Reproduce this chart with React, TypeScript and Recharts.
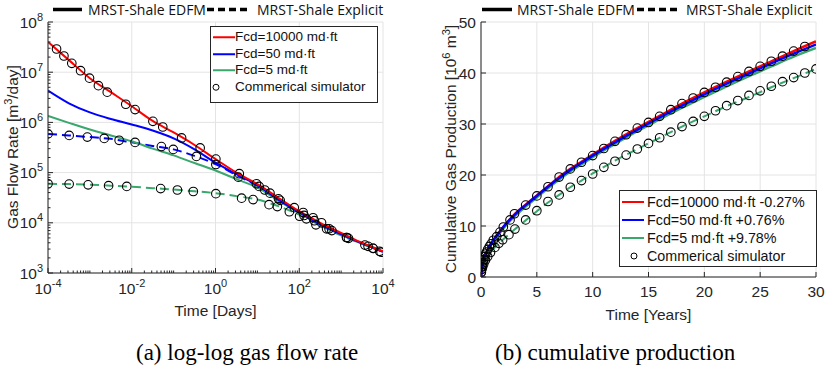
import React from 'react';
import { ComposedChart, Line, Scatter, XAxis, YAxis, CartesianGrid, Legend } from 'recharts';

const FONT = '"Liberation Sans", Arial, sans-serif';
const AX = '#262626';
const GRID = '#e4e4e4';
const RED = '#ff0000';
const BLUE = '#0000ff';
const GREEN = '#3aa76d';

// (a) gas flow rate [m3/day] vs time [days]
const rateDays = [1e-4, 3.16e-4, 1e-3, 3.16e-3, 1e-2, 3.16e-2, 0.1, 0.316, 1, 3.16, 10, 31.6, 100, 316, 1000, 3160, 1e4];
const rateEdfm10000 = [4.0e7, 1.74e7, 7.6e6, 4.0e6, 2.1e6, 1.07e6, 6.3e5, 3.55e5, 1.86e5, 1.0e5, 5.9e4, 3.16e4, 1.7e4, 1.0e4, 6.3e3, 4.0e3, 2.7e3];
const rateEdfm50 = [4.3e6, 2.4e6, 1.58e6, 1.17e6, 9.1e5, 6.9e5, 4.8e5, 2.9e5, 1.58e5, 9.3e4, 5.6e4, 2.9e4, 1.62e4, 9.3e3, 5.9e3, 3.9e3, 2.65e3];
const rateEdfm5 = [1.35e6, 9.8e5, 7.2e5, 5.5e5, 4.2e5, 3.0e5, 2.2e5, 1.55e5, 1.1e5, 7.4e4, 5.0e4, 2.75e4, 1.55e4, 9.1e3, 5.75e3, 3.8e3, 2.65e3];
const rateExpl50 = [5.9e5, 5.5e5, 5.1e5, 4.7e5, 4.0e5, 3.4e5, 2.9e5, 2.15e5, 1.48e5, 8.9e4, 5.4e4, 2.9e4, 1.62e4, 9.3e3, 5.9e3, 3.9e3, 2.65e3];
const rateExpl5 = [6.0e4, 5.9e4, 5.75e4, 5.5e4, 5.25e4, 4.9e4, 4.6e4, 4.25e4, 3.9e4, 3.4e4, 2.9e4, 2.15e4, 1.45e4, 8.9e3, 5.6e3, 3.8e3, 2.65e3];

// commercial simulator points (a)
const simDays10000 = [1.6e-4, 2.4e-4, 3.7e-4, 6e-4, 9.8e-4, 1.6e-3, 2.6e-3, 7.2e-3, 1.2e-2, 3.2e-2, 5.5e-2, 0.155, 0.43, 1.02, 3.7, 9.5, 15, 32, 76, 124, 214, 340, 515, 1350, 3700, 5800, 8300];
const simRate10000 = [2.9e7, 2.1e7, 1.5e7, 1.07e7, 7.6e6, 5.4e6, 4.0e6, 2.3e6, 1.8e6, 1.05e6, 8.1e5, 4.9e5, 3.1e5, 1.86e5, 9.5e4, 6.0e4, 4.5e4, 3.0e4, 2.0e4, 1.6e4, 1.26e4, 1.0e4, 7.6e3, 5.1e3, 3.6e3, 3.1e3, 2.7e3];
const simDays50 = [1e-4, 3.2e-4, 8.7e-4, 2.2e-3, 5e-3, 1.2e-2, 5.1e-2, 9.8e-2, 0.35, 1.02, 3.5, 11, 20, 35, 130, 230, 600, 1500, 4400, 9000];
const simRate50 = [5.9e5, 5.5e5, 5.1e5, 4.8e5, 4.4e5, 4.0e5, 3.3e5, 2.9e5, 2.1e5, 1.45e5, 8.1e4, 5.3e4, 3.9e4, 2.8e4, 1.4e4, 1.1e4, 7.0e3, 4.9e3, 3.4e3, 2.6e3];
const simDays5 = [1e-4, 3.2e-4, 9.1e-4, 2.8e-3, 7.6e-3, 4.9e-2, 0.123, 0.295, 1.02, 4.2, 7.9, 19, 30, 58, 102, 148, 250, 450, 1350, 5800];
const simRate5 = [6.0e4, 5.9e4, 5.7e4, 5.5e4, 5.3e4, 4.8e4, 4.5e4, 4.2e4, 3.8e4, 3.1e4, 2.9e4, 2.3e4, 2.1e4, 1.66e4, 1.35e4, 1.2e4, 9.1e3, 7.6e3, 5.1e3, 3.1e3];

const dayTicks = [1e-4, 1e-2, 1, 1e2, 1e4];
const dayTickExp = ['-4', '-2', '0', '2', '4'];
const rateTicks = [1e3, 1e4, 1e5, 1e6, 1e7, 1e8];
const rateTickExp = ['3', '4', '5', '6', '7', '8'];

// (b) cumulative gas production [10^6 m3] vs time [years]
const cumYears = [0, 0.1, 0.25, 0.5, 1, 1.5, 2, 3, 4, 5, 6, 7, 8, 9, 10, 12, 14, 16, 18, 20, 22, 24, 26, 28, 30];
const cumEdfm10000 = [0, 2.2, 3.45, 4.9, 6.9, 8.4, 9.8, 12.3, 14.2, 16.0, 17.8, 19.6, 21.2, 22.6, 24.0, 26.7, 29.2, 31.6, 34.0, 36.2, 38.3, 40.3, 42.3, 44.3, 46.2];
const cumEdfm50 = [0, 2.2, 3.45, 4.9, 6.9, 8.4, 9.8, 12.2, 14.1, 15.9, 17.7, 19.4, 21.0, 22.4, 23.8, 26.4, 28.9, 31.3, 33.6, 35.8, 37.9, 39.9, 41.9, 43.8, 45.6];
const cumEdfm5 = [0, 2.0, 3.2, 4.6, 6.6, 8.1, 9.5, 11.9, 13.8, 15.6, 17.4, 19.1, 20.7, 22.1, 23.5, 26.1, 28.6, 30.9, 33.2, 35.3, 37.4, 39.4, 41.3, 43.2, 44.9];
const cumExpl5 = [0, 1.65, 2.6, 3.7, 5.2, 6.4, 7.4, 9.3, 11.1, 12.9, 14.6, 16.1, 17.6, 18.9, 20.3, 22.8, 25.1, 27.3, 29.5, 31.5, 33.5, 35.3, 37.2, 39.0, 40.8];

const simYearsHigh = [0.02, 0.05, 0.08, 0.12, 0.17, 0.25, 0.33, 0.42, 0.5, 0.6, 0.75, 0.9, 1.1, 1.4, 1.7, 2, 2.6, 3, 4, 5, 6, 7, 8, 9, 10, 11, 12, 13, 14, 15, 16, 17, 18, 19, 20, 21, 22, 23, 24, 25, 26, 27, 28, 29];
const simCumHigh = [1.0, 1.5, 2.0, 2.4, 2.8, 3.4, 4.0, 4.5, 4.9, 5.4, 6.0, 6.5, 7.2, 7.9, 8.8, 9.8, 11.2, 12.4, 14.1, 15.9, 17.7, 19.6, 21.2, 22.5, 23.8, 25.2, 26.6, 27.9, 29.2, 30.3, 31.5, 32.8, 34.0, 35.1, 36.2, 37.2, 38.2, 39.3, 40.3, 41.3, 42.3, 43.3, 44.3, 45.2];
const simYears5 = [0.03, 0.08, 0.15, 0.25, 0.4, 0.6, 0.85, 1.25, 1.6, 1.94, 2.5, 3.04, 4, 5, 6, 7, 8, 9, 10, 11, 12, 13, 14, 15, 16, 17, 18, 19, 20, 21, 22, 23, 24, 25, 26, 27, 28, 29, 30];
const simCum5 = [0.9, 1.5, 2.0, 2.6, 3.3, 4.0, 4.8, 5.8, 6.6, 7.3, 8.3, 9.4, 11.2, 13.0, 14.8, 16.1, 17.6, 18.9, 20.2, 21.5, 22.7, 23.9, 25.1, 26.2, 27.3, 28.4, 29.5, 30.5, 31.5, 32.6, 33.6, 34.6, 35.6, 36.5, 37.4, 38.3, 39.1, 40.0, 40.8];

const yearTicks = [0, 5, 10, 15, 20, 25, 30];
const cumTicks = [0, 10, 20, 30, 40, 50];

const pts = (t: number[], q: number[]) => t.map((v, i) => ({ t: v, q: q[i] }));

// all 1..9 x 10^e positions for MATLAB-like minor ticks
const logTickSet = (lo: number, hi: number) => {
  const out: number[] = [];
  for (let e = lo; e < hi; e++) for (let m = 1; m < 10; m++) out.push(m * Math.pow(10, e));
  out.push(Math.pow(10, hi));
  return out;
};
const dayAllTicks = logTickSet(-4, 4);
const rateAllTicks = logTickSet(3, 8);

function AxisTick(props: any) {
  const { x, y, payload, side, majors, labels, log } = props;
  const v = payload.value;
  const i = majors.findIndex((m: number) => (log ? Math.abs(Math.log10(v / m)) < 1e-6 : Math.abs(v - m) < 1e-9));
  const len = i >= 0 ? 5 : 2.5;
  let line;
  if (side === 'bottom') line = <line x1={x} x2={x} y1={y} y2={y - len} stroke={AX} />;
  else if (side === 'top') line = <line x1={x} x2={x} y1={y} y2={y + len} stroke={AX} />;
  else if (side === 'left') line = <line x1={x} x2={x + len} y1={y} y2={y} stroke={AX} />;
  else line = <line x1={x} x2={x - len} y1={y} y2={y} stroke={AX} />;
  let label = null;
  if (i >= 0 && (side === 'bottom' || side === 'left')) {
    const lx = side === 'bottom' ? x : x - 5;
    const ly = side === 'bottom' ? y + (log ? 21 : 20) : y + 5.5;
    label = (
      <text x={lx} y={ly} textAnchor={side === 'bottom' ? 'middle' : 'end'} fill={AX} fontSize={15.5} fontFamily={FONT}>
        {log ? '10' : labels[i]}
        {log ? <tspan dy={-7} fontSize={11}>{labels[i]}</tspan> : null}
      </text>
    );
  }
  return <g>{line}{label}</g>;
}

const ring = (p: any) => <circle cx={p.cx} cy={p.cy} r={4.3} fill="none" stroke="#000" strokeWidth={1.1} />;

function BoxLegend({ rows, fontSize, rowH, lineX, textX, ringX, padTop }: any) {
  return (
    <div style={{ border: `1px solid ${AX}`, background: '#fff', fontFamily: FONT, fontSize, color: '#111', paddingTop: padTop, boxSizing: 'border-box', height: '100%' }}>
      {rows.map((r: any) => (
        <div key={r.label} style={{ position: 'relative', height: rowH, lineHeight: `${rowH}px`, whiteSpace: 'nowrap' }}>
          <svg width={textX} height={rowH} style={{ position: 'absolute', left: 0, top: 0 }}>
            {r.color ? (
              <line x1={lineX[0]} x2={lineX[1]} y1={rowH / 2} y2={rowH / 2} stroke={r.color} strokeWidth={2} />
            ) : (
              <circle cx={ringX} cy={rowH / 2} r={3} fill="none" stroke="#000" strokeWidth={1} />
            )}
          </svg>
          <span style={{ position: 'absolute', left: textX }}>{r.label}</span>
        </div>
      ))}
    </div>
  );
}

function RateChart() {
  const ids = { xAxisId: 'b', yAxisId: 'l' };
  return (
    <div style={{ position: 'absolute', left: 0, top: 0 }}>
      <ComposedChart width={400} height={300} margin={{ top: 22, right: 17, bottom: 0, left: 0 }}>
        <CartesianGrid {...ids} stroke={GRID} verticalValues={dayTicks} horizontalValues={rateTicks} />
        <XAxis xAxisId="b" dataKey="t" type="number" scale="log" domain={[1e-4, 1e4]} allowDataOverflow ticks={dayAllTicks} interval={0} height={27} tickSize={0} tickMargin={0} tickLine={false} axisLine={{ stroke: AX }}
          tick={(p: any) => <AxisTick {...p} side="bottom" log majors={dayTicks} labels={dayTickExp} />} />
        <XAxis xAxisId="t" orientation="top" type="number" scale="log" domain={[1e-4, 1e4]} allowDataOverflow ticks={dayAllTicks} interval={0} height={0} tickSize={0} tickMargin={0} tickLine={false} axisLine={{ stroke: AX }}
          tick={(p: any) => <AxisTick {...p} side="top" log majors={dayTicks} labels={dayTickExp} />} />
        <YAxis yAxisId="l" dataKey="q" type="number" scale="log" domain={[1e3, 1e8]} allowDataOverflow ticks={rateAllTicks} interval={0} width={48} tickSize={0} tickMargin={0} tickLine={false} axisLine={{ stroke: AX }}
          tick={(p: any) => <AxisTick {...p} side="left" log majors={rateTicks} labels={rateTickExp} />} />
        <YAxis yAxisId="r" orientation="right" type="number" scale="log" domain={[1e3, 1e8]} allowDataOverflow ticks={rateAllTicks} interval={0} width={0} tickSize={0} tickMargin={0} tickLine={false} axisLine={{ stroke: AX }}
          tick={(p: any) => <AxisTick {...p} side="right" log majors={rateTicks} labels={rateTickExp} />} />
        <Line {...ids} data={pts(rateDays, rateExpl5)} dataKey="q" type="monotone" stroke={GREEN} strokeWidth={2} strokeDasharray="9 5" dot={false} isAnimationActive={false} />
        <Line {...ids} data={pts(rateDays, rateExpl50)} dataKey="q" type="monotone" stroke={BLUE} strokeWidth={2} strokeDasharray="9 5" dot={false} isAnimationActive={false} />
        <Line {...ids} data={pts(rateDays, rateEdfm5)} dataKey="q" type="monotone" stroke={GREEN} strokeWidth={2} dot={false} isAnimationActive={false} />
        <Line {...ids} data={pts(rateDays, rateEdfm50)} dataKey="q" type="monotone" stroke={BLUE} strokeWidth={2} dot={false} isAnimationActive={false} />
        <Line {...ids} data={pts(rateDays, rateEdfm10000)} dataKey="q" type="monotone" stroke={RED} strokeWidth={2} dot={false} isAnimationActive={false} />
        <Scatter {...ids} data={pts(simDays5, simRate5)} shape={ring} isAnimationActive={false} />
        <Scatter {...ids} data={pts(simDays50, simRate50)} shape={ring} isAnimationActive={false} />
        <Scatter {...ids} data={pts(simDays10000, simRate10000)} shape={ring} isAnimationActive={false} />
        <Legend layout="vertical" align="center" verticalAlign="middle" wrapperStyle={{ left: 210, top: 26, width: 168, height: 77 }}
          content={() => (
            <BoxLegend fontSize={13.5} rowH={16.5} padTop={2} lineX={[2, 24]} textX={24} ringX={5}
              rows={[{ label: 'Fcd=10000 md·ft', color: RED }, { label: 'Fcd=50 md·ft', color: BLUE }, { label: 'Fcd=5 md·ft', color: GREEN }, { label: 'Commerical simulator' }]} />
          )} />
      </ComposedChart>
    </div>
  );
}

function CumChart() {
  const ids = { xAxisId: 'b', yAxisId: 'l' };
  return (
    <div style={{ position: 'absolute', left: 420, top: 0 }}>
      <ComposedChart width={407} height={304} margin={{ top: 22, right: 11, bottom: 0, left: 0 }}>
        <CartesianGrid {...ids} stroke={GRID} verticalValues={yearTicks} horizontalValues={cumTicks} />
        <XAxis xAxisId="b" dataKey="t" type="number" domain={[0, 30]} allowDataOverflow ticks={yearTicks} interval={0} height={27} tickSize={0} tickMargin={0} tickLine={false} axisLine={{ stroke: AX }}
          tick={(p: any) => <AxisTick {...p} side="bottom" majors={yearTicks} labels={yearTicks.map(String)} />} />
        <XAxis xAxisId="t" orientation="top" type="number" domain={[0, 30]} allowDataOverflow ticks={yearTicks} interval={0} height={0} tickSize={0} tickMargin={0} tickLine={false} axisLine={{ stroke: AX }}
          tick={(p: any) => <AxisTick {...p} side="top" majors={yearTicks} labels={yearTicks.map(String)} />} />
        <YAxis yAxisId="l" dataKey="q" type="number" domain={[0, 50]} allowDataOverflow ticks={cumTicks} interval={0} width={61} tickSize={0} tickMargin={0} tickLine={false} axisLine={{ stroke: AX }}
          tick={(p: any) => <AxisTick {...p} side="left" majors={cumTicks} labels={cumTicks.map(String)} />} />
        <YAxis yAxisId="r" orientation="right" type="number" domain={[0, 50]} allowDataOverflow ticks={cumTicks} interval={0} width={0} tickSize={0} tickMargin={0} tickLine={false} axisLine={{ stroke: AX }}
          tick={(p: any) => <AxisTick {...p} side="right" majors={cumTicks} labels={cumTicks.map(String)} />} />
        <Line {...ids} data={pts(cumYears, cumExpl5)} dataKey="q" type="monotone" stroke={GREEN} strokeWidth={2} strokeDasharray="9 5" dot={false} isAnimationActive={false} />
        <Line {...ids} data={pts(cumYears, cumEdfm5)} dataKey="q" type="monotone" stroke={GREEN} strokeWidth={2.5} dot={false} isAnimationActive={false} />
        <Line {...ids} data={pts(cumYears, cumEdfm10000)} dataKey="q" type="monotone" stroke={RED} strokeWidth={2.5} dot={false} isAnimationActive={false} />
        <Line {...ids} data={pts(cumYears, cumEdfm50)} dataKey="q" type="monotone" stroke={BLUE} strokeWidth={2.5} dot={false} isAnimationActive={false} />
        <Scatter {...ids} data={pts(simYears5, simCum5)} shape={ring} isAnimationActive={false} />
        <Scatter {...ids} data={pts(simYearsHigh, simCumHigh)} shape={ring} isAnimationActive={false} />
        <Legend layout="vertical" align="center" verticalAlign="middle" wrapperStyle={{ left: 199, top: 190, width: 198, height: 77 }}
          content={() => (
            <BoxLegend fontSize={14.3} rowH={18} padTop={2} lineX={[2, 24]} textX={27} ringX={14}
              rows={[{ label: 'Fcd=10000 md·ft -0.27%', color: RED }, { label: 'Fcd=50 md·ft +0.76%', color: BLUE }, { label: 'Fcd=5 md·ft +9.78%', color: GREEN }, { label: 'Commerical simulator' }]} />
          )} />
      </ComposedChart>
    </div>
  );
}

function Titles() {
  const t = { fill: AX, fontFamily: FONT, fontSize: 15.5 };
  const head = { fill: '#111', fontFamily: '"Open Sans", sans-serif', fontSize: 14 };
  const cap = { fill: '#000', fontFamily: '"Liberation Serif", "Times New Roman", serif', fontSize: 23 };
  return (
    <svg width={827} height={366} style={{ position: 'absolute', left: 0, top: 0, pointerEvents: 'none' }}>
      <line x1={53} x2={82} y1={9.5} y2={9.5} stroke="#000" strokeWidth={3.5} />
      <text x={88} y={14.5} {...head}>MRST-Shale EDFM</text>
      <line x1={207} x2={249} y1={9.5} y2={9.5} stroke="#000" strokeWidth={3.5} strokeDasharray="7 4" />
      <text x={257} y={14.5} {...head}>MRST-Shale Explicit</text>
      <line x1={482} x2={512} y1={9.5} y2={9.5} stroke="#000" strokeWidth={3.5} />
      <text x={517} y={14.5} {...head}>MRST-Shale EDFM</text>
      <line x1={637} x2={679} y1={9.5} y2={9.5} stroke="#000" strokeWidth={3.5} strokeDasharray="7 4" />
      <text x={686} y={14.5} {...head}>MRST-Shale Explicit</text>

      <text transform="translate(18,147) rotate(-90)" textAnchor="middle" {...t}>
        Gas Flow Rate [m<tspan dy={-6} fontSize={11}>3</tspan><tspan dy={6}>/day]</tspan>
      </text>
      <text x={215.5} y={316} textAnchor="middle" {...t}>Time [Days]</text>
      <text transform="translate(456,149) rotate(-90)" textAnchor="middle" {...t}>
        Cumulative Gas Production [10<tspan dy={-6} fontSize={11}>6</tspan><tspan dy={6}> m</tspan><tspan dy={-6} fontSize={11}>3</tspan><tspan dy={6}>]</tspan>
      </text>
      <text x={648.5} y={320} textAnchor="middle" {...t}>Time [Years]</text>

      <text x={136} y={360} {...cap}>(a) log-log gas flow rate</text>
      <text x={495} y={360} {...cap}>(b) cumulative production</text>
    </svg>
  );
}

export default function App() {
  return (
    <div style={{ position: 'absolute', left: 0, top: 0, width: 827, height: 366, background: '#fff', overflow: 'hidden' }}>
      <RateChart />
      <CumChart />
      <Titles />
    </div>
  );
}
